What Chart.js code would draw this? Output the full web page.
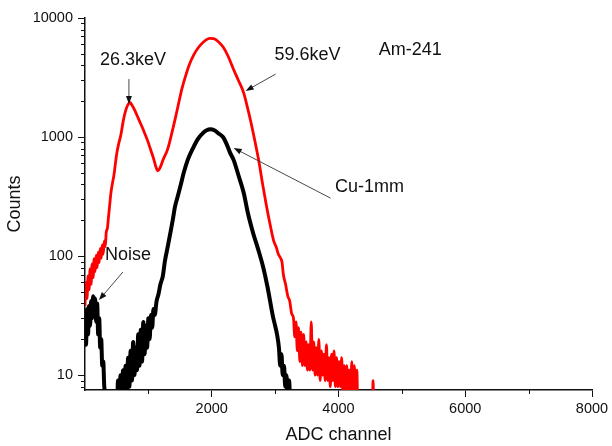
<!DOCTYPE html>
<html>
<head>
<meta charset="utf-8">
<script src="https://cdn.jsdelivr.net/npm/chart.js@4.4.1/dist/chart.umd.min.js"></script>
<style>
  html, body { margin: 0; padding: 0; background: #fff; }
  #wrap { width: 612px; height: 446px; }
</style>
</head>
<body>
<div id="wrap"><canvas id="spectrum" width="612" height="446"></canvas></div>
<script>
// DATA - Am-241 spectrum (red) and with Cu-1mm filter (black)
const redChannel = [
  0, 16, 32, 48, 64, 80, 96, 112, 128, 144,
  160, 176, 192, 208, 224, 240, 256, 272, 288, 304,
  320, 336, 352, 368, 384, 409, 430, 457, 480, 500,
  530, 567, 605, 646, 680, 709, 740, 780, 850, 920,
  992, 1040, 1087, 1120, 1150, 1180, 1230, 1307, 1370, 1433,
  1480, 1530, 1590, 1650, 1720, 1790, 1850, 1910, 1970, 2030,
  2100, 2180, 2260, 2346, 2420, 2504, 2560, 2620, 2680, 2740,
  2800, 2860, 2920, 2976, 3020, 3050, 3087, 3110, 3130, 3165,
  3200, 3230, 3260, 3290, 3310, 3330, 3350, 3370, 3390, 3410,
  3430, 3450, 3470, 3490, 3510, 3530, 3550, 3570, 3590, 3610,
  3630, 3650, 3670, 3690, 3710, 3730, 3750, 3770, 3790, 3810,
  3830, 3850, 3870, 3890, 3910, 3930, 3950, 3970, 3990, 4010,
  4030, 4050, 4070, 4090, 4110, 4130, 4150, 4170, 4190, 4210,
  4230, 4250, 4270, 4290, 4310, 4530, 4545, 4560
];
const redCounts = [
  38, 60, 44, 68, 52, 78, 58, 86, 66, 95,
  74, 102, 80, 108, 88, 116, 96, 124, 104, 134,
  120, 160, 170, 205, 250, 340, 400, 480, 600, 720,
  870, 1050, 1380, 1700, 1880, 1950, 1860, 1700, 1400, 1150,
  920, 770, 647, 560, 520, 545, 640, 800, 1080, 1500,
  1950, 2550, 3300, 4100, 4950, 5650, 6150, 6550, 6750, 6700,
  6350, 5700, 4750, 3670, 3000, 2350, 1800, 1320, 930, 640,
  410, 270, 185, 135, 118, 104, 96, 88, 70, 58,
  46, 42, 33, 30, 21, 28, 16, 25, 13, 23,
  12, 22, 12, 19, 11, 18, 11, 28, 11, 19,
  10, 17, 10, 20, 9, 16, 10, 15, 9, 18,
  9, 14, 8, 15, 9, 16, 8, 14, 8, 13,
  8, 14, 7, 12, 7, 12, 7, 11, 6, 13,
  6, 12, 6, 11, 3, 3, 9, 3
];

const blackChannel = [
  0, 16, 32, 48, 64, 80, 96, 112, 128, 144,
  160, 176, 192, 208, 224, 240, 256, 272, 288, 304,
  320, 336, 352, 500, 520, 540, 560, 580, 600, 620,
  640, 660, 680, 700, 720, 740, 760, 780, 800, 820,
  840, 860, 880, 900, 920, 940, 960, 980, 1000, 1020,
  1040, 1060, 1080, 1100, 1130, 1160, 1190, 1228, 1260, 1307,
  1340, 1386, 1420, 1465, 1512, 1559, 1620, 1701, 1780, 1860,
  1920, 1980, 2040, 2100, 2177, 2240, 2288, 2346, 2420, 2504,
  2570, 2650, 2730, 2808, 2880, 2966, 3000, 3030, 3060, 3080,
  3100, 3120, 3140, 3160, 3180, 3200, 3220, 3240, 3260
];
const blackCounts = [
  32, 18, 36, 22, 38, 26, 42, 30, 46, 34,
  44, 28, 40, 22, 30, 17, 20, 12, 13, 8,
  7, 4, 3, 3, 9, 4, 10, 5, 11, 6,
  12, 7, 14, 8, 16, 9, 19, 10, 17, 11,
  22, 12, 24, 13, 28, 15, 26, 17, 30, 20,
  32, 25, 36, 32, 42, 48, 58, 68, 90, 121,
  150, 203, 260, 320, 400, 503, 640, 800, 960, 1080,
  1140, 1160, 1140, 1080, 1000, 860, 740, 640, 480, 340,
  230, 158, 115, 82, 55, 31, 26, 22, 17, 12,
  15, 10, 12, 8, 10, 6, 9, 5, 3
];

const xTickLabels = [2000, 4000, 6000, 8000];
const xMinorTicks = [1000, 3000, 5000, 7000];
const yTickLabels = [10, 100, 1000, 10000];
const yMinorTicks = [8, 9, 20, 30, 40, 50, 60, 70, 80, 90, 200, 300, 400, 500, 600, 700, 800, 900,
  2000, 3000, 4000, 5000, 6000, 7000, 8000, 9000];

// annotation texts and arrows (anchored in channel / counts)
const notes = [
  { text: '26.3keV', x: 756, y: 4030, from: [693, 3070], to: [693, 1892] },
  { text: '59.6keV', x: 3512, y: 4440, from: [3008, 3380], to: [2535, 2440] },
  { text: 'Am-241', x: 5134, y: 4890 },
  { text: 'Cu-1mm', x: 4488, y: 345, from: [3874, 307], to: [2346, 809] },
  { text: 'Noise', x: 677, y: 92.5, from: [598, 73.5], to: [220, 42.7] }
];

const FONT = "'Liberation Sans', Arial, sans-serif";

function toPoints(xs, ys) {
  return xs.map((x, i) => ({ x: x, y: ys[i] }));
}

// minor ticks + annotations
const extrasPlugin = {
  id: 'extras',
  afterDraw(chart) {
    const ctx = chart.ctx;
    const xs = chart.scales.x, ys = chart.scales.y;
    const area = chart.chartArea;
    ctx.save();
    ctx.strokeStyle = '#111';
    ctx.lineWidth = 1;
    ctx.beginPath();
    yMinorTicks.forEach(v => {
      const py = Math.round(ys.getPixelForValue(v)) + 0.5;
      ctx.moveTo(area.left - 4, py);
      ctx.lineTo(area.left, py);
    });
    xMinorTicks.forEach(v => {
      const px = Math.round(xs.getPixelForValue(v)) + 0.5;
      ctx.moveTo(px, area.bottom);
      ctx.lineTo(px, area.bottom + 4);
    });
    ctx.stroke();

    ctx.font = '18px ' + FONT;
    ctx.fillStyle = '#111';
    ctx.textAlign = 'center';
    ctx.textBaseline = 'alphabetic';
    notes.forEach(n => {
      ctx.fillText(n.text, xs.getPixelForValue(n.x), ys.getPixelForValue(n.y));
      if (!n.from) return;
      const x1 = xs.getPixelForValue(n.from[0]), y1 = ys.getPixelForValue(n.from[1]);
      const x2 = xs.getPixelForValue(n.to[0]), y2 = ys.getPixelForValue(n.to[1]);
      const ang = Math.atan2(y2 - y1, x2 - x1);
      ctx.strokeStyle = '#333';
      ctx.lineWidth = 0.9;
      ctx.beginPath();
      ctx.moveTo(x1, y1);
      ctx.lineTo(x2 - 6 * Math.cos(ang), y2 - 6 * Math.sin(ang));
      ctx.stroke();
      ctx.fillStyle = '#111';
      ctx.beginPath();
      ctx.moveTo(x2, y2);
      ctx.lineTo(x2 - 8 * Math.cos(ang) + 3 * Math.sin(ang), y2 - 8 * Math.sin(ang) - 3 * Math.cos(ang));
      ctx.lineTo(x2 - 8 * Math.cos(ang) - 3 * Math.sin(ang), y2 - 8 * Math.sin(ang) + 3 * Math.cos(ang));
      ctx.closePath();
      ctx.fill();
    });
    ctx.restore();
  }
};

new Chart(document.getElementById('spectrum'), {
  type: 'line',
  data: {
    datasets: [
      {
        data: toPoints(blackChannel, blackCounts),
        borderColor: '#000000',
        borderWidth: 4,
        pointRadius: 0,
        cubicInterpolationMode: 'monotone',
        clip: 0
      },
      {
        data: toPoints(redChannel, redCounts),
        borderColor: '#ff0000',
        borderWidth: 2.8,
        pointRadius: 0,
        cubicInterpolationMode: 'monotone',
        clip: 0
      }
    ]
  },
  options: {
    responsive: false,
    animation: false,
    layout: { padding: { top: 18, right: 20, left: 0, bottom: 0 } },
    plugins: { legend: { display: false }, tooltip: { enabled: false } },
    scales: {
      x: {
        type: 'linear',
        min: 0,
        max: 8000,
        afterBuildTicks: s => { s.ticks = xTickLabels.map(v => ({ value: v })); },
        afterFit: s => { s.height = 56; },
        grid: { drawOnChartArea: false, drawTicks: true, tickLength: 7, tickColor: '#111', tickWidth: 1 },
        border: { display: true, color: '#111', width: 1.5 },
        ticks: { autoSkip: false, maxRotation: 0, padding: 3, color: '#111', font: { family: FONT, size: 14.5 }, callback: v => String(v) },
        title: { display: true, text: 'ADC channel', color: '#111', font: { family: FONT, size: 18 }, padding: { top: 0, bottom: 0 } }
      },
      y: {
        type: 'logarithmic',
        min: 7.5,
        max: 10000,
        afterBuildTicks: s => { s.ticks = yTickLabels.map(v => ({ value: v })); },
        afterFit: s => { s.width = 85; },
        grid: { drawOnChartArea: false, drawTicks: true, tickLength: 7, tickColor: '#111', tickWidth: 1 },
        border: { display: true, color: '#111', width: 1.5 },
        ticks: { padding: 5, color: '#111', font: { family: FONT, size: 14.5 }, callback: v => String(v) },
        title: { display: true, text: 'Counts', color: '#111', font: { family: FONT, size: 18 }, padding: { top: 4, bottom: 0 } }
      }
    }
  },
  plugins: [extrasPlugin]
});
</script>
</body>
</html>
